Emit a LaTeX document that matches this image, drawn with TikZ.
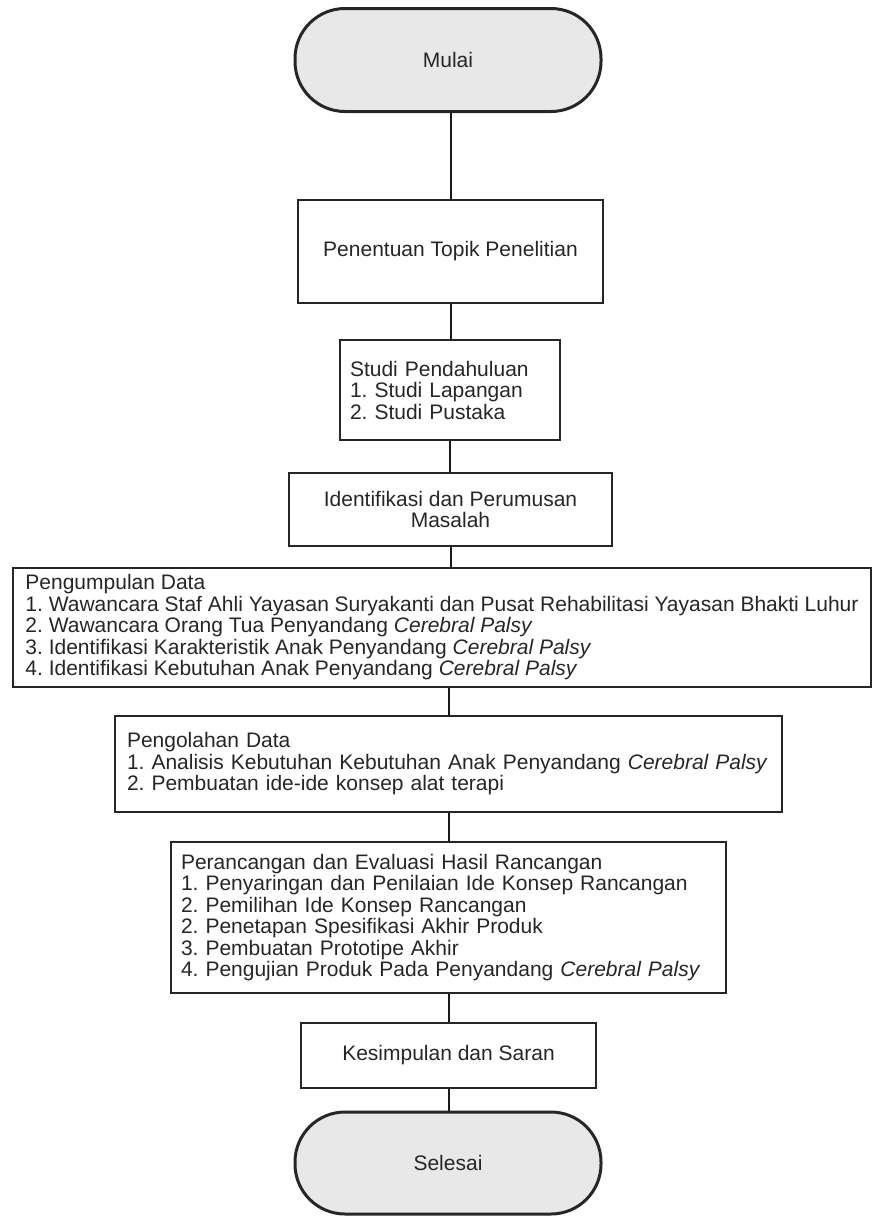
\documentclass[tikz,border=0pt]{standalone}
\usepackage{fontspec}
\setmainfont{Liberation Sans}
\frenchspacing
\begin{document}
\begin{tikzpicture}[x=1pt,y=-1pt,
  every node/.style={font=\fontsize{21}{21.5}\selectfont, text=black!85},
  term/.style={draw=black!85, line width=3pt, fill=black!9, rounded corners=50pt, minimum width=306pt, minimum height=103pt, inner sep=0pt},
  box/.style={draw=black!85, line width=2pt, inner sep=0pt, align=center},
  lbox/.style={draw=black!85, line width=2pt, inner xsep=10pt, inner ysep=0pt, align=left},
  conn/.style={draw=black!90, line width=2pt}]
\path[use as bounding box] (0,0) rectangle (874,1216);

\node[term] (mulai) at (448,60) {Mulai};
\node[box, minimum width=305pt, minimum height=103pt] (pen) at (450.5,251.5) {Penentuan Topik Penelitian};
\node[lbox, text width=200pt, minimum height=100pt] (stu) at (450,390) {Studi Pendahuluan\\1. Studi Lapangan\\2. Studi Pustaka};
\node[box, minimum width=323pt, minimum height=73pt] (ide) at (450.5,509.5) {Identifikasi dan Perumusan\\Masalah};
\node[draw=black!85, line width=2pt, inner sep=0pt, align=left, minimum width=858pt, minimum height=119pt] (kum) at (442,627.5) {Pengumpulan Data\\1. Wawancara Staf Ahli Yayasan Suryakanti dan Pusat Rehabilitasi Yayasan Bhakti Luhur\\2. Wawancara Orang Tua Penyandang \textit{Cerebral Palsy}\\3. Identifikasi Karakteristik Anak Penyandang \textit{Cerebral Palsy}\\4. Identifikasi Kebutuhan Anak Penyandang \textit{Cerebral Palsy}};
\node[lbox, inner xsep=12pt, text width=643pt, minimum height=96pt] (olah) at (448.5,764) {Pengolahan Data\\1. Analisis Kebutuhan Kebutuhan Anak Penyandang \textit{Cerebral Palsy}\\2. Pembuatan ide-ide konsep alat terapi};
\node[lbox, inner xsep=10pt, text width=535pt, minimum height=151pt] (ranc) at (448.5,917.5) {Perancangan dan Evaluasi Hasil Rancangan\\1. Penyaringan dan Penilaian Ide Konsep Rancangan\\2. Pemilihan Ide Konsep Rancangan\\2. Penetapan Spesifikasi Akhir Produk\\3. Pembuatan Prototipe Akhir\\4. Pengujian Produk Pada Penyandang \textit{Cerebral Palsy}};
\node[box, minimum width=295pt, minimum height=65pt] (kes) at (448.5,1055.5) {Kesimpulan dan Saran};
\node[term, minimum height=102pt] (sel) at (448,1163) {Selesai};

\draw[conn] (pen.north) -- (pen.north |- mulai.south);
\draw[conn] (pen.south) -- (pen.south |- stu.north);
\draw[conn] (stu.south) -- (stu.south |- ide.north);
\draw[conn] (ide.south) -- (ide.south |- kum.north);
\draw[conn] (olah.north) -- (olah.north |- kum.south);
\draw[conn] (olah.south) -- (olah.south |- ranc.north);
\draw[conn] (ranc.south) -- (ranc.south |- kes.north);
\draw[conn] (kes.south) -- (kes.south |- sel.north);
\end{tikzpicture}
\end{document}
